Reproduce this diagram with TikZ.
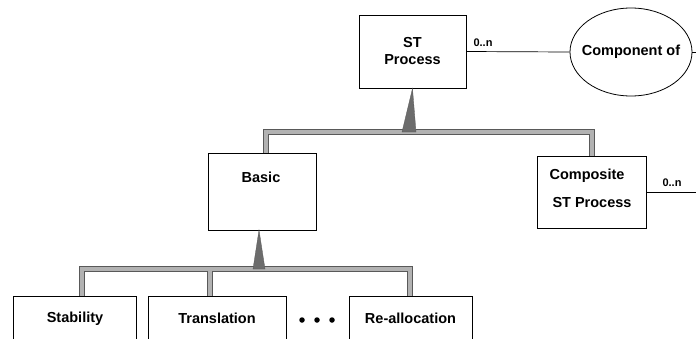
\documentclass[tikz,border=0pt]{standalone}
\usepackage{fontspec}
\setmainfont{Liberation Sans}
\usetikzlibrary{shapes.geometric}
\begin{document}
\begin{tikzpicture}[x=1pt,y=-1pt,
  box/.style={draw,line width=0.8pt,inner sep=0,minimum width=#1},
  lbl/.style={font=\fontsize{14.5}{17}\selectfont\bfseries,inner sep=0},
  card/.style={font=\fontsize{11}{13}\selectfont\bfseries,inner sep=0},
  barout/.style={draw=gray!70!black,line width=5.5pt},
  barin/.style={draw=gray!60,line width=3.5pt},
  tri/.style={fill=gray!85!black,draw=gray!70!black,line width=0.3pt},
  conn/.style={line width=0.7pt},
  dot/.style={circle,fill,inner sep=0,minimum size=5.5pt}]
\useasboundingbox (0,0) rectangle (696,338);
% boxes
\node[box=107,minimum height=73] (st) at (412.5,51.5) {};
\node[box=108,minimum height=77] (basic) at (262,191.5) {};
\node[box=109,minimum height=72] (comp) at (591.5,192) {};
\node[box=123,minimum height=80] (stab) at (74.5,336) {};
\node[box=138,minimum height=80] (trans) at (217,336) {};
\node[box=123,minimum height=80] (realloc) at (410.5,336) {};
\node[draw,ellipse,line width=0.8pt,minimum width=122,minimum height=88,inner sep=0] (compof) at (631,52) {};
% texts
\node[lbl] (t1) at (412.5,43) {ST};
\node[lbl] (t2) at (412.5,60) {Process};
\node[lbl] at (compof.center) {Component of};
\node[lbl] (t3) at (261,177) {Basic};
\node[lbl] (t4) at (587,176) {Composite};
\node[lbl] (t5) at (592,203) {ST Process};
\node[lbl] (t6) at (75,319) {Stability};
\node[lbl] (t7) at (217,318) {Translation};
\node[lbl] (t8) at (410.5,318) {Re-allocation};
\node[card] (c1) at (483,43) {0..n};
\node[card] (c2) at (672,183) {0..n};
\node[dot] (d1) at (302,320) {};
\node[dot] (d2) at (317,320) {};
\node[dot] (d3) at (332,320) {};
% connectors
\coordinate (e1) at (696,52);
\coordinate (e2) at (696,192);
\draw[conn] (st.east) -- (compof.west);
\draw[conn] (compof.east) -- (e1);
\draw[conn] (comp.east) -- (e2);
% generalisation bars
\coordinate (u1) at (266,132);
\coordinate (u2) at (592,132);
\coordinate (l1) at (82,269);
\coordinate (l2) at (410,269);
\coordinate (l3) at (210,269);
\foreach \s in {barout,barin}{
  \draw[\s] (basic.north -| u1) -- (u1) -- (u2) -- (comp.north -| u2);
  \draw[\s] (stab.north -| l1) -- (l1) -- (l2) -- (realloc.north -| l2);
  \draw[\s] (l3) -- (trans.north -| l3);
}
\draw[tri] (st.south) -- (402,132) -- (416,132) -- cycle;
\draw[tri] (259,230) -- (253,269) -- (265,269) -- cycle;
\end{tikzpicture}
\end{document}
